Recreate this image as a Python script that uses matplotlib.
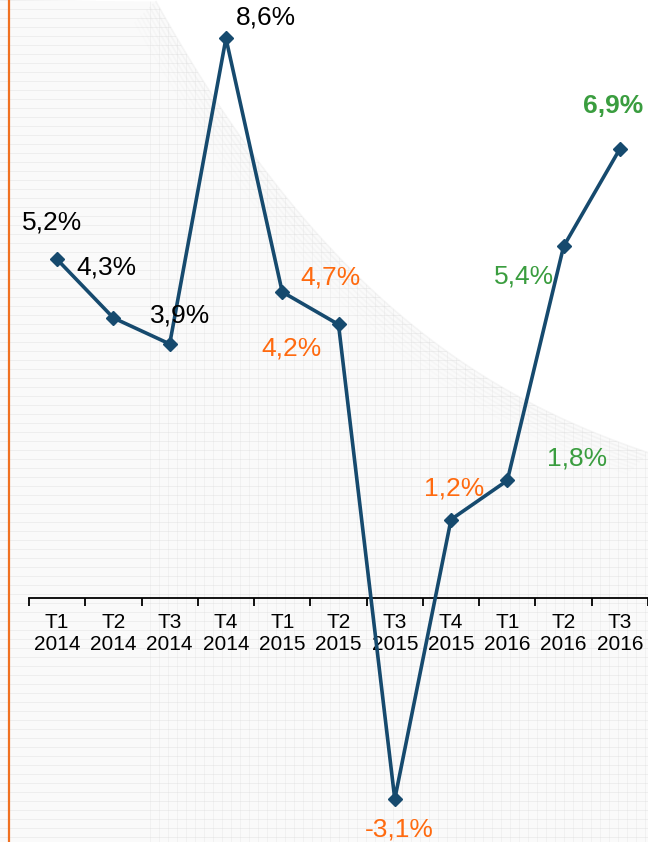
import numpy as np
import matplotlib
matplotlib.use("Agg")
import matplotlib.pyplot as plt
from matplotlib.path import Path as MPath
from matplotlib.patches import PathPatch

# data
quarters = ["T1", "T2", "T3", "T4", "T1", "T2", "T3", "T4", "T1", "T2", "T3"]
years = ["2014", "2014", "2014", "2014", "2015", "2015", "2015", "2015", "2016", "2016", "2016"]
growth = [5.2, 4.3, 3.9, 8.6, 4.7, 4.2, -3.1, 1.2, 1.8, 5.4, 6.9]

# label placement (pixel offsets from the point) and colours per year
label_offsets = [(-5, 37), (-7, 50), (10, 28), (40, 21), (48, 14), (-47, -24),
                 (5, -30), (3, 31), (70, 22), (-40, -30), (-7, 43)]
year_colors = {"2014": "black", "2015": "#ff6a0f", "2016": "#3a9d3f"}

LINE = "#164a6e"
W, H = 648, 842

plt.rcParams["font.family"] = ["Liberation Sans", "DejaVu Sans"]

fig = plt.figure(figsize=(W / 100, H / 100), dpi=100)

# decorative mesh background (pixel coordinates)
bg = fig.add_axes([0, 0, 1, 1], zorder=0)
bg.set_xlim(0, W)
bg.set_ylim(H, 0)
bg.axis("off")
edge_x = [156, 240, 345, 450, 555, 648]
edge_y = [0, 140, 262, 350, 420, 451]
coef = np.polyfit(edge_x, edge_y, 3)
cx = np.linspace(156, 648, 200)
cy = np.polyval(coef, cx)
verts = [(0, 0)] + list(zip(cx, cy)) + [(W, H), (0, H), (0, 0)]
region = PathPatch(MPath(verts), facecolor="#fafafa", edgecolor="none")
bg.add_patch(region)
for k, a in enumerate(np.linspace(0.10, 0.02, 8)):
    bg.plot(cx - k * 3, cy + k * 3, color="#b0b0b0", lw=1.2, alpha=a)
for yy in np.arange(0, H, 9):
    ln, = bg.plot([0, W], [yy, yy], color="#d8d8d8", lw=0.5, alpha=0.5)
    ln.set_clip_path(region)
for xx in np.arange(150, W, 9):
    ln, = bg.plot([xx, xx], [0, H], color="#d8d8d8", lw=0.5, alpha=0.35)
    ln.set_clip_path(region)

# orange bar at the left edge
fig.add_artist(plt.Line2D([8.5 / W, 8.5 / W], [0, 1], color="#f07020", lw=1.6))

ax = fig.add_axes([29 / W, 0, 1 - 29 / W, 1], zorder=1)
ax.set_facecolor("none")
x = np.arange(len(growth))
ax.plot(x, growth, color=LINE, lw=2.6, marker="D", markersize=7.5,
        markerfacecolor=LINE, markeredgecolor=LINE, zorder=3)

ax.set_xlim(-0.5, len(growth) - 0.5)
ax.set_ylim(-3.76, 9.19)

for i, (v, yr) in enumerate(zip(growth, years)):
    dx, dy = label_offsets[i]
    txt = f"{v:.1f}%".replace(".", ",")
    ax.annotate(txt, (i, v), xytext=(dx, dy), textcoords="offset pixels",
                ha="center", va="center", fontsize=19, color=year_colors[yr],
                fontweight="bold" if i == len(growth) - 1 else "normal", zorder=4)

for s in ["top", "right", "left"]:
    ax.spines[s].set_visible(False)
ax.spines["bottom"].set_position(("data", 0))
ax.spines["bottom"].set_linewidth(1.3)
ax.set_yticks([])

ax.set_xticks(np.arange(-0.5, len(growth)), minor=False)
ax.set_xticklabels([])
ax.tick_params(axis="x", which="major", length=6, width=1.3, direction="out")
ax.set_xticks(x, minor=True)
ax.set_xticklabels([f"{q}\n{y}" for q, y in zip(quarters, years)], minor=True,
                   fontsize=15, linespacing=1.2)
ax.tick_params(axis="x", which="minor", length=0, pad=11)

fig.savefig("out.png", dpi=100)
